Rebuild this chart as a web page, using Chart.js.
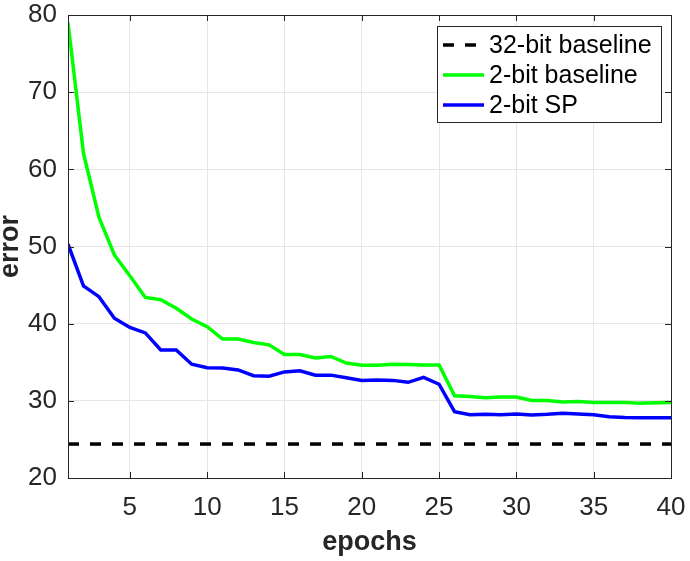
<!DOCTYPE html>
<html>
<head>
<meta charset="utf-8">
<script src="https://cdn.jsdelivr.net/npm/chart.js@4.4.1/dist/chart.umd.min.js"></script>
<style>
html,body{margin:0;padding:0;background:#fff;}
canvas{display:block;}
</style>
</head>
<body>
<canvas id="c" width="690" height="561"></canvas>
<script>
const epochs = [1,2,3,4,5,6,7,8,9,10,11,12,13,14,15,16,17,18,19,20,21,22,23,24,25,26,27,28,29,30,31,32,33,34,35,36,37,38,39,40];
const baseline2bit = [79.0,62.1,53.8,48.9,46.2,43.4,43.1,42.0,40.6,39.6,38.0,38.0,37.55,37.25,36.0,36.0,35.55,35.75,34.9,34.6,34.6,34.75,34.7,34.65,34.65,30.65,30.55,30.4,30.5,30.5,30.05,30.05,29.85,29.9,29.8,29.8,29.8,29.7,29.75,29.8];
const sp2bit = [50.3,44.9,43.5,40.7,39.5,38.8,36.6,36.6,34.75,34.3,34.25,34.0,33.25,33.2,33.75,33.9,33.33,33.33,33.0,32.65,32.7,32.65,32.4,33.05,32.15,28.6,28.2,28.25,28.2,28.3,28.15,28.25,28.4,28.3,28.2,27.95,27.85,27.8,27.8,27.8];
const baseline32bit = 24.4;
const xTicks = [5,10,15,20,25,30,35,40];
const yTicks = [20,30,40,50,60,70,80];
const seriesNames = ['32-bit baseline','2-bit baseline','2-bit SP'];

const FONT = '"Liberation Sans", Arial, Helvetica, sans-serif';
const AXIS = '#262626';

const toPts = (xs, ys) => xs.map((x,i)=>({x:x, y:ys[i]}));

const boxPlugin = {
  id:'boxPlugin',
  afterDraw(chart){
    const ctx = chart.ctx, a = chart.chartArea;
    const xs = chart.scales.x, ys = chart.scales.y;
    ctx.save();
    ctx.strokeStyle = AXIS;
    ctx.lineWidth = 1;
    ctx.strokeRect(Math.round(a.left)+0.5, Math.round(a.top)+0.5, Math.round(a.right-a.left), Math.round(a.bottom-a.top));
    const tl = 6;
    ctx.beginPath();
    xTicks.forEach(t=>{
      const px = Math.round(xs.getPixelForValue(t))+0.5;
      ctx.moveTo(px, a.bottom); ctx.lineTo(px, a.bottom-tl);
      ctx.moveTo(px, a.top); ctx.lineTo(px, a.top+tl);
    });
    yTicks.forEach(t=>{
      const py = Math.round(ys.getPixelForValue(t))+0.5;
      ctx.moveTo(a.left, py); ctx.lineTo(a.left+tl, py);
      ctx.moveTo(a.right, py); ctx.lineTo(a.right-tl, py);
    });
    ctx.stroke();
    // legend
    const lx = 437, ly = 26, lw = 224, lh = 96;
    ctx.fillStyle = '#fff';
    ctx.fillRect(lx, ly, lw, lh);
    ctx.strokeStyle = AXIS;
    ctx.strokeRect(lx+0.5, ly+0.5, lw, lh);
    const rows = [45, 75, 105];
    chart.data.datasets.forEach((ds,i)=>{
      const y = rows[i];
      ctx.beginPath();
      ctx.strokeStyle = ds.borderColor;
      ctx.lineWidth = ds.borderWidth;
      ctx.setLineDash(ds.borderDash || []);
      ctx.moveTo(443, y); ctx.lineTo(484, y);
      ctx.stroke();
      ctx.setLineDash([]);
      ctx.fillStyle = '#000';
      ctx.font = '25px ' + FONT;
      ctx.textBaseline = 'middle';
      ctx.textAlign = 'left';
      ctx.fillText(ds.label, 489, y+1);
    });
    ctx.restore();
  }
};

new Chart(document.getElementById('c'), {
  type:'line',
  data:{
    datasets:[
      {label:seriesNames[0], data:[{x:epochs[0],y:baseline32bit},{x:epochs[epochs.length-1],y:baseline32bit}], borderColor:'#000000', borderWidth:3.5, borderDash:[11,11], pointRadius:0, fill:false},
      {label:seriesNames[1], data:toPts(epochs, baseline2bit), borderColor:'#00ff00', borderWidth:3.5, pointRadius:0, fill:false, tension:0},
      {label:seriesNames[2], data:toPts(epochs, sp2bit), borderColor:'#0000ff', borderWidth:3.5, pointRadius:0, fill:false, tension:0}
    ]
  },
  options:{
    responsive:false,
    animation:false,
    devicePixelRatio:1,
    layout:{padding:{left:0,right:19,top:15,bottom:0}},
    plugins:{legend:{display:false}, tooltip:{enabled:false}},
    scales:{
      x:{
        type:'linear', min:1, max:40,
        afterBuildTicks(s){ s.ticks = xTicks.map(v=>({value:v})); },
        afterFit(s){ s.height = 83; s.paddingLeft = 0; s.paddingRight = 0; },
        grid:{color:'#e6e6e6', lineWidth:1, drawTicks:false},
        border:{display:false},
        ticks:{font:{family:FONT,size:26}, color:AXIS, padding:14, maxRotation:0, autoSkip:false},
        title:{display:true, text:'epochs', font:{family:FONT,size:27,weight:'bold'}, color:AXIS, padding:{top:0,bottom:2}}
      },
      y:{
        min:20, max:80,
        afterBuildTicks(s){ s.ticks = yTicks.map(v=>({value:v})); },
        afterFit(s){ s.width = 68; s.paddingTop = 0; s.paddingBottom = 0; },
        grid:{color:'#e6e6e6', lineWidth:1, drawTicks:false},
        border:{display:false},
        ticks:{font:{family:FONT,size:26}, color:AXIS, padding:11},
        title:{display:true, text:'error', font:{family:FONT,size:27,weight:'bold',lineHeight:0.78}, color:AXIS, padding:{top:0,bottom:0}}
      }
    }
  },
  plugins:[boxPlugin]
});
</script>
</body>
</html>
